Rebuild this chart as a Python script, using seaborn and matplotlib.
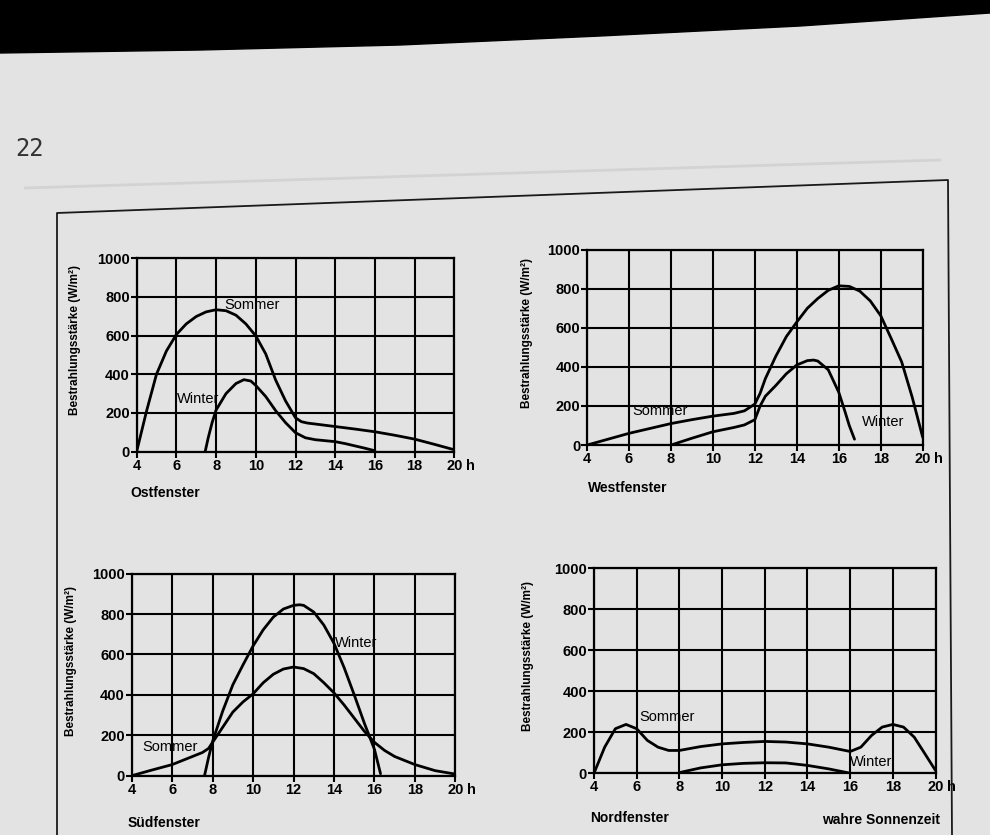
import matplotlib
matplotlib.use("Agg")
import matplotlib.pyplot as plt
from matplotlib.lines import Line2D
from matplotlib.patches import Polygon
import numpy as np
import pandas as pd
import seaborn as sns

# ---------------- data ----------------
x_ticks = [4, 6, 8, 10, 12, 14, 16, 18, 20]
x_tick_labels = ["4", "6", "8", "10", "12", "14", "16", "18", "20"]
y_ticks = [0, 200, 400, 600, 800, 1000]

ost_sommer_h = [4.0, 4.5, 5.0, 5.5, 6.0, 6.5, 7.0, 7.5, 8.0, 8.5, 9.0, 9.5, 10.0, 10.5, 11.0,
                11.5, 12.0, 12.3, 12.6, 13.0, 14.0, 15.0, 16.0, 17.0, 18.0, 19.0, 20.0]
ost_sommer_w = [0, 210, 400, 520, 605, 660, 698, 722, 733, 728, 705, 660, 598, 505, 370,
                262, 175, 155, 148, 143, 130, 117, 103, 85, 65, 38, 10]
ost_winter_h = [7.45, 7.6, 7.8, 8.0, 8.5, 9.0, 9.4, 9.75, 10.0, 10.5, 11.0, 11.5, 12.0,
                12.5, 13.0, 14.0, 14.5, 15.0, 15.5, 16.0]
ost_winter_w = [0, 70, 150, 215, 300, 352, 372, 365, 342, 285, 212, 150, 98,
                72, 62, 52, 42, 30, 18, 5]

west_sommer_h = [4, 5, 6, 7, 8, 9, 10, 11, 11.5, 12, 12.25, 12.5, 13, 13.5, 14, 14.5, 15,
                 15.5, 16, 16.5, 17, 17.5, 18, 18.5, 19, 19.5, 20]
west_sommer_w = [0, 30, 60, 85, 110, 130, 148, 162, 175, 210, 265, 340, 455, 555, 630, 700, 750,
                 792, 815, 812, 788, 738, 662, 545, 425, 245, 40]
west_winter_h = [8, 9, 10, 11, 11.5, 12, 12.25, 12.5, 13, 13.5, 14, 14.5, 14.8, 15, 15.5,
                 16, 16.3, 16.5, 16.75]
west_winter_w = [0, 35, 68, 90, 103, 130, 200, 250, 305, 365, 410, 432, 435, 430, 385,
                 270, 170, 100, 30]

sued_sommer_h = [4, 5, 6, 7, 7.5, 7.8, 8, 8.5, 9, 9.5, 10, 10.5, 11, 11.5, 12, 12.5, 13,
                 13.5, 14, 14.5, 15, 15.5, 16, 16.5, 17, 18, 19, 20]
sued_sommer_w = [0, 28, 55, 95, 115, 135, 165, 240, 315, 365, 405, 460, 502, 528, 538, 530, 505,
                 460, 410, 350, 285, 220, 165, 125, 95, 55, 25, 8]
sued_winter_h = [7.6, 7.8, 8, 8.5, 9, 9.5, 10, 10.5, 11, 11.5, 12, 12.3, 12.5, 13, 13.5, 14,
                 14.5, 15, 15.5, 16, 16.3]
sued_winter_w = [0, 90, 170, 320, 450, 548, 642, 722, 785, 825, 843, 846, 843, 810, 745, 655,
                 535, 400, 260, 130, 10]

nord_sommer_h = [4, 4.5, 5, 5.5, 6, 6.5, 7, 7.5, 8, 9, 10, 11, 12, 13, 14, 15, 16, 16.5,
                 17, 17.5, 18, 18.5, 19, 19.5, 20]
nord_sommer_w = [0, 127, 217, 238, 217, 160, 127, 111, 111, 130, 143, 150, 155, 152, 143, 127, 106, 127,
                 184, 225, 238, 225, 176, 95, 13]
nord_winter_h = [8, 9, 10, 11, 12, 13, 14, 15, 16]
nord_winter_w = [3, 26, 41, 48, 51, 50, 38, 21, 0]

# ---------------- style ----------------
sns.set_theme(style="ticks")
plt.rcParams["font.family"] = ["Liberation Sans", "DejaVu Sans"]
plt.rcParams["text.color"] = "black"
plt.rcParams["axes.labelcolor"] = "black"
plt.rcParams["xtick.color"] = "black"
plt.rcParams["ytick.color"] = "black"
PAGE = "#e3e3e3"

fig = plt.figure(figsize=(9.9, 8.35), dpi=100)
fig.patch.set_facecolor(PAGE)

W, H = 990.0, 835.0
def fx(px):
    return px / W
def fy(py):
    return 1 - py / H

# black band at the top of the photo
band_x = [0, 200, 400, 600, 800, 990]
band_y = [53, 50, 45, 36, 26, 13]
pts = [(fx(0), fy(0)), (fx(990), fy(0))] + [(fx(a), fy(b)) for a, b in zip(band_x[::-1], band_y[::-1])]
fig.add_artist(Polygon(pts, closed=True, transform=fig.transFigure, color="black", zorder=0))

# page number
fig.text(fx(15), fy(149), "22", fontsize=17, color="#333333", va="center", ha="left",
         family=["DejaVu Sans Mono"], fontstretch="condensed")

# faint line and outer frame
fig.add_artist(Line2D([fx(25), fx(940)], [fy(188), fy(160)], transform=fig.transFigure,
                      color="#d3d3d3", lw=2, zorder=0))
frame_x = [57, 57, 948, 952]
frame_y = [835, 213, 180, 835]
fig.add_artist(Line2D([fx(v) for v in frame_x], [fy(v) for v in frame_y],
                      transform=fig.transFigure, color="#1a1a1a", lw=1.3))

panels = [
    dict(rect=[0.138, 0.459, 0.321, 0.232], s=(ost_sommer_h, ost_sommer_w),
         w=(ost_winter_h, ost_winter_w), sl=(9.8, 760), wl=(7.1, 270),
         ylab=(75, 340), cap=("Ostfenster", 130, 493)),
    dict(rect=[0.593, 0.467, 0.339, 0.234], s=(west_sommer_h, west_sommer_w),
         w=(west_winter_h, west_winter_w), sl=(7.5, 175), wl=(18.1, 120),
         ylab=(527, 333), cap=("Westfenster", 588, 488)),
    dict(rect=[0.133, 0.071, 0.327, 0.242], s=(sued_sommer_h, sued_sommer_w),
         w=(sued_winter_h, sued_winter_w), sl=(5.9, 140), wl=(15.1, 657),
         ylab=(71, 661), cap=("Südfenster", 128, 823)),
    dict(rect=[0.600, 0.074, 0.345, 0.2455], s=(nord_sommer_h, nord_sommer_w),
         w=(nord_winter_h, nord_winter_w), sl=(7.4, 275), wl=(17.0, 55),
         ylab=(528, 656), cap=("Nordfenster", 590, 818)),
]

for p in panels:
    ax = fig.add_axes(p["rect"])
    ax.set_facecolor(PAGE)
    df = pd.concat([
        pd.DataFrame({"Stunde": p["s"][0], "Wert": p["s"][1], "Jahreszeit": "Sommer"}),
        pd.DataFrame({"Stunde": p["w"][0], "Wert": p["w"][1], "Jahreszeit": "Winter"}),
    ])
    sns.lineplot(data=df, x="Stunde", y="Wert", hue="Jahreszeit",
                 palette={"Sommer": "black", "Winter": "black"}, legend=False,
                 estimator=None, sort=False, lw=2.0, ax=ax, zorder=3)
    for ln in ax.get_lines():
        ln.set_solid_joinstyle("round")
        ln.set_solid_capstyle("round")
    ax.set_xlim(4, 20)
    ax.set_ylim(0, 1000)
    ax.set_xticks(x_ticks)
    ax.set_xticklabels(x_tick_labels)
    ax.set_yticks(y_ticks)
    ax.grid(True, color="black", lw=1.5, zorder=1)
    for sp in ax.spines.values():
        sp.set_visible(True)
        sp.set_color("black")
        sp.set_linewidth(1.6)
    ax.tick_params(axis="both", length=4, width=1.5, color="black", labelsize=10.5,
                   labelcolor="black", pad=1)
    for lab in ax.get_xticklabels() + ax.get_yticklabels():
        lab.set_fontweight("bold")
    ax.set_xlabel("")
    ax.set_ylabel("")
    ax.annotate("h", xy=(20, 0), xycoords=("data", "axes fraction"), xytext=(8.5, -5),
                textcoords="offset points", fontsize=10.5, fontweight="bold",
                ha="left", va="top", annotation_clip=False)
    ax.text(p["sl"][0], p["sl"][1], "Sommer", fontsize=10.5, ha="center", va="center", zorder=4)
    ax.text(p["wl"][0], p["wl"][1], "Winter", fontsize=10.5, ha="center", va="center", zorder=4)
    fig.text(fx(p["ylab"][0]), fy(p["ylab"][1]), "Bestrahlungsstärke (W/m²)", rotation=90,
             fontsize=8.5, fontweight="bold", ha="center", va="center")
    cap, cx, cy = p["cap"]
    fig.text(fx(cx), fy(cy), cap, fontsize=10, fontweight="bold", ha="left", va="center")

fig.text(fx(822), fy(820), "wahre Sonnenzeit", fontsize=10, fontweight="bold", ha="left", va="center")

fig.savefig("out.png", dpi=100, facecolor=fig.get_facecolor())
